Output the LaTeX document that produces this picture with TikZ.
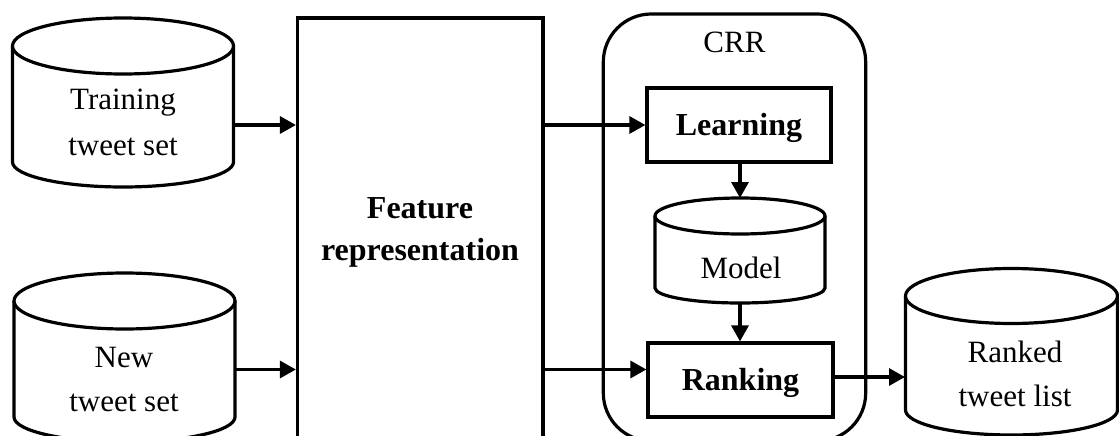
\documentclass[tikz,border=0pt]{standalone}
\usepackage{fontspec}
\setmainfont{Liberation Serif}
\usetikzlibrary{arrows.meta}
\newcommand{\dbcyl}[6]{% cx, top-ellipse centre, bottom-ellipse centre, rx, ry top, ry bottom
  \filldraw[fill=white] (#1-#4,#2) -- (#1-#4,#3) arc[start angle=180,end angle=360,x radius=#4,y radius=#6] -- (#1+#4,#2);
  \filldraw[fill=white] (#1,#2) ellipse[x radius=#4,y radius=#5];}
\tikzset{
  arr/.style={-{Triangle[length=8pt,width=8.5pt]}},
  lbl/.style={inner sep=0pt,align=center,font=\fontsize{15.5pt}{23pt}\selectfont},
  blbl/.style={inner sep=0pt,align=center,font=\fontsize{16pt}{21pt}\selectfont\bfseries},
  boxnode/.style={draw,rectangle,inner sep=0pt,text height=13.5pt,text depth=3.5pt,font=\fontsize{16pt}{21pt}\selectfont\bfseries},
}
\begin{document}
\begin{tikzpicture}[x=0.5pt,y=0.5pt,line width=1.6pt]
\useasboundingbox (0,0) rectangle (1119,435);
\clip (0,0) rectangle (1119,435);
% big boxes
\node[draw,rectangle,minimum width=122.75pt,minimum height=221pt,inner sep=0pt] (feat) at (420.25,196) {};
\node[blbl] (feattext) at (420,203) {Feature\\representation};
\node[draw,rectangle,rounded corners=24pt,minimum width=131.2pt,minimum height=213.5pt,inner sep=0pt] (crr) at (734.5,207.5) {};
\node[lbl] (crrlab) at (734.5,392.5) {CRR};
% cylinders
\dbcyl{123}{389}{273}{110.5}{28}{25}
\node[lbl] (train) at (123,313) {Training\\tweet set};
\dbcyl{124.5}{134}{18}{110.5}{28}{25}
\node[lbl,font=\fontsize{15.5pt}{22pt}\selectfont] (new) at (124,56) {New\\tweet set};
\dbcyl{740}{219}{147}{85}{18}{15}
\node[lbl] (model) at (741,167.5) {Model};
\dbcyl{1011.5}{139}{25}{106}{27.5}{25}
\node[lbl,font=\fontsize{15.5pt}{22pt}\selectfont] (ranked) at (1015,61) {Ranked\\tweet list};
% inner boxes
\node[boxnode,minimum width=92pt,minimum height=37pt] (learn) at (739,310) {Learning};
\node[boxnode,minimum width=92.5pt,minimum height=37pt] (rank) at (740.5,55) {Ranking};
% connector ends
\coordinate (trainR) at (233.5,310);
\coordinate (newR) at (235,65.5);
\coordinate (modelT) at (740,237);
\coordinate (modelB) at (740,132);
\coordinate (rankedL) at (905,58);
% connectors
\draw[arr] (trainR) -- (trainR -| feat.west);
\draw[arr] (newR) -- (newR -| feat.west);
\draw[arr] (learn.west -| feat.east) -- (learn.west);
\draw[arr] (feat.east |- newR) -- (rank.west |- newR);
\draw[arr] (learn.south -| modelT) -- (modelT);
\draw[arr] (modelB) -- (modelB |- rank.north);
\draw[arr] (rank.east |- rankedL) -- (rankedL);
\end{tikzpicture}
\end{document}
